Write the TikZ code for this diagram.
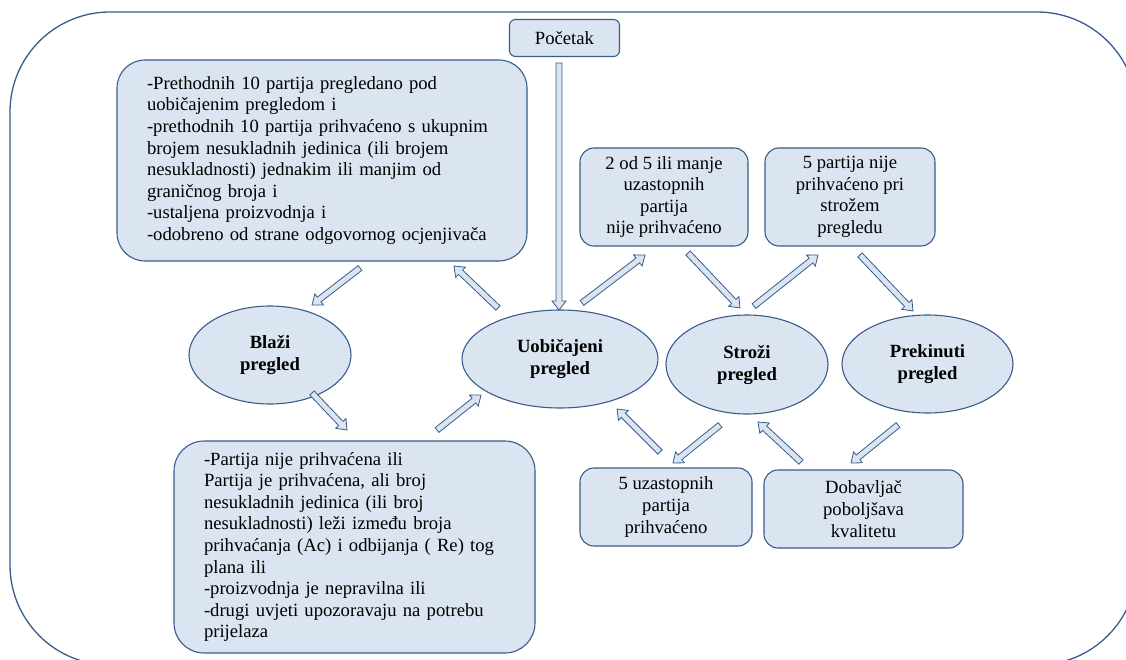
\documentclass[tikz,border=0pt]{standalone}
\usepackage{fontspec}
\setmainfont{Liberation Serif}
\usetikzlibrary{calc,shapes.geometric}
\definecolor{edge}{HTML}{385D8A}
\definecolor{boxfill}{HTML}{DBE5F1}
\tikzset{
  base/.style={draw=edge, fill=boxfill, line width=1.1pt, text=black, inner sep=0pt,
    font=\fontsize{18.65}{21.6}\selectfont},
  rbox/.style={base, rectangle, rounded corners=#1, align=center},
  rbox/.default=14pt,
  tbox/.style={base, rectangle, rounded corners=#1, align=left, inner xsep=30pt},
  oval/.style={base, ellipse, align=center, font=\fontsize{18.65}{22}\selectfont\bfseries},
  barrowsty/.style={draw=edge, fill=boxfill, line width=0.8pt, line join=miter},
  frame/.style={draw=edge, line width=1.3pt, rounded corners=100pt}
}
\newcommand\blockarr[2]{%
  \path[barrowsty] let \p1=(#1), \p2=(#2), \n1={atan2(\y2-\y1,\x2-\x1)} in
    ($(\p1)+({\n1+90}:3pt)$) --
    ($(\p2)+(\n1:-9pt)+({\n1+90}:3pt)$) --
    ($(\p2)+(\n1:-9pt)+({\n1+90}:7pt)$) --
    (\p2) --
    ($(\p2)+(\n1:-9pt)+({\n1-90}:7pt)$) --
    ($(\p2)+(\n1:-9pt)+({\n1-90}:3pt)$) --
    ($(\p1)+({\n1-90}:3pt)$) -- cycle;}
\begin{document}
\begin{tikzpicture}[x=1pt,y=-1pt]
\useasboundingbox (0,0) rectangle (1126,660);
\begin{scope}
  \clip (0,0) rectangle (1126,660);
  \draw[frame] (10,12) rectangle (1137,665);
\end{scope}

% nodes
\node[rbox=6pt, minimum width=110pt, minimum height=37pt] (start) at (564.5,38) {Početak};

\node[tbox=28pt, text width=350pt, minimum height=201pt] (crit1) at (322,160.5)
  {-Prethodnih 10 partija pregledano pod\\
   uobičajenim pregledom i\\
   -prethodnih 10 partija prihvaćeno s ukupnim\\
   brojem nesukladnih jedinica (ili brojem\\
   nesukladnosti) jednakim ili manjim od\\
   graničnog broja i\\
   -ustaljena proizvodnja i\\
   -odobreno od strane odgovornog ocjenjivača};

\node[rbox, minimum width=168pt, minimum height=98pt] (two) at (664,197)
  {2 od 5 ili manje\\uzastopnih\\partija\\nije prihvaćeno};
\node[rbox, minimum width=170pt, minimum height=98pt] (five) at (850,197)
  {5 partija nije\\prihvaćeno pri\\strožem\\pregledu};

\node[oval, minimum width=162pt, minimum height=98pt] (blazi) at (270,355) {Blaži\\pregled};
\node[oval, minimum width=196pt, minimum height=98pt] (uob) at (560,359) {Uobičajeni\\pregled};
\node[oval, minimum width=162pt, minimum height=99pt] (strozi) at (747,364.5) {Stroži\\pregled};
\node[oval, minimum width=171pt, minimum height=98pt] (prek) at (927.5,364) {Prekinuti\\pregled};

\node[tbox=30pt, text width=301pt, minimum height=212pt] (crit2) at (354.5,547)
  {-Partija nije prihvaćena ili\\
   Partija je prihvaćena, ali broj\\
   nesukladnih jedinica (ili broj\\
   nesukladnosti) leži između broja\\
   prihvaćanja (Ac) i odbijanja ( Re) tog\\
   plana ili\\
   -proizvodnja je nepravilna ili\\
   -drugi uvjeti upozoravaju na potrebu\\
   prijelaza};

\node[rbox, minimum width=172pt, minimum height=78pt] (cons) at (666,507)
  {5 uzastopnih\\partija\\prihvaćeno};
\node[rbox, minimum width=199pt, minimum height=78pt] (dobav) at (863.5,509)
  {Dobavljač\\poboljšava\\kvalitetu};

% arrow end points
\coordinate (a1s) at (360,268);  \coordinate (a1e) at (312,305);
\coordinate (a2s) at (498,308);  \coordinate (a2e) at (454,266);
\coordinate (a3s) at (312,393);  \coordinate (a3e) at (347,430);
\coordinate (a4s) at (437,430);  \coordinate (a4e) at (481,395);
\coordinate (a5s) at (559,63);   \coordinate (a5e) at (559,310);
\coordinate (a6s) at (582,303);  \coordinate (a6e) at (645,255);
\coordinate (a7s) at (688,253);  \coordinate (a7e) at (740,308);
\coordinate (a8s) at (754,306);  \coordinate (a8e) at (818,255);
\coordinate (a9s) at (860,255);  \coordinate (a9e) at (913,311);
\coordinate (b1s) at (660,452);  \coordinate (b1e) at (617,409);
\coordinate (b2s) at (720,425);  \coordinate (b2e) at (673,463);
\coordinate (b3s) at (801,462);  \coordinate (b3e) at (758,422);
\coordinate (b4s) at (898,425);  \coordinate (b4e) at (851,463);

\blockarr{a1s}{a1e}
\blockarr{a2s}{a2e}
\blockarr{a3s}{a3e}
\blockarr{a4s}{a4e}
\blockarr{a5s}{a5e}
\blockarr{a6s}{a6e}
\blockarr{a7s}{a7e}
\blockarr{a8s}{a8e}
\blockarr{a9s}{a9e}
\blockarr{b1s}{b1e}
\blockarr{b2s}{b2e}
\blockarr{b3s}{b3e}
\blockarr{b4s}{b4e}
\end{tikzpicture}
\end{document}
